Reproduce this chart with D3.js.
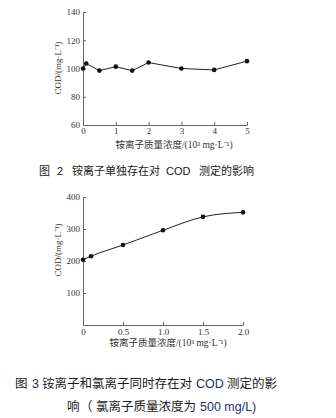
<!DOCTYPE html>
<html>
<head>
<meta charset="utf-8">
<script src="https://cdn.jsdelivr.net/npm/d3@7"></script>
<style>
  html, body { margin: 0; padding: 0; background: #fff; }
  svg { display: block; }
  .tick text { font-family: "Liberation Serif", serif; font-size: 9px; fill: #333; }
  .domain, .tick line { stroke: #666; }
</style>
</head>
<body>
<svg id="fig" width="336" height="418"></svg>
<script>
// Figure 2: ammonium alone
const aloneConc = [0, 0.1, 0.5, 1, 1.5, 2, 3, 4, 5];
const aloneCOD = [100, 103.5, 98.5, 101.3, 98.5, 104.2, 100, 99, 105.2];
const aloneXTicks = [0, 1, 2, 3, 4, 5];
const aloneYTicks = [60, 80, 100, 120, 140];

// Figure 3: ammonium with chloride (500 mg/L)
const mixedConc = [0, 0.1, 0.5, 1.0, 1.5, 2.0];
const mixedCOD = [204, 215, 250, 296, 338, 352];
const mixedXTicks = [0, 0.5, 1.0, 1.5, 2.0];
const mixedYTicks = [100, 200, 300, 400];

const xTitle = "铵离子质量浓度/(10³ mg·L⁻¹)";
const yTitle = "COD/(mg·L⁻¹)";

const svg = d3.select("#fig");

function panel(cfg) {
  const g = svg.append("g");
  const x = d3.scaleLinear().domain(cfg.xDomain).range(cfg.xRange);
  const y = d3.scaleLinear().domain(cfg.yDomain).range(cfg.yRange);

  g.append("g")
    .attr("transform", `translate(0,${cfg.yRange[0]})`)
    .call(d3.axisBottom(x).tickValues(cfg.xTicks).tickFormat(cfg.xFormat)
      .tickSizeInner(-3).tickSizeOuter(0).tickPadding(cfg.xPad));

  g.append("g")
    .attr("transform", `translate(${cfg.xRange[0]},0)`)
    .call(d3.axisLeft(y).tickValues(cfg.yTicks).tickFormat(d3.format("d"))
      .tickSizeInner(-3).tickSizeOuter(0).tickPadding(3));

  const pts = cfg.xs.map((v, i) => [v, cfg.ys[i]]);
  const line = d3.line().x(d => x(d[0])).y(d => y(d[1])).curve(cfg.curve);
  g.append("path").datum(pts)
    .attr("d", line).attr("fill", "none")
    .attr("stroke", "#222").attr("stroke-width", 1);

  g.selectAll("circle").data(pts).join("circle")
    .attr("cx", d => x(d[0])).attr("cy", d => y(d[1]))
    .attr("r", 2.3).attr("fill", "#111");

  g.append("text")
    .attr("x", cfg.xTitlePos[0]).attr("y", cfg.xTitlePos[1])
    .attr("text-anchor", "middle")
    .style("font-family", "'Liberation Serif', 'Noto Sans CJK SC', serif")
    .style("font-size", "9.5px").attr("fill", "#333")
    .text(xTitle);

  g.append("text")
    .attr("transform", `translate(${cfg.yTitlePos[0]},${cfg.yTitlePos[1]}) rotate(-90)`)
    .attr("text-anchor", "middle")
    .style("font-family", "'Liberation Serif', serif")
    .style("font-size", "9px").attr("fill", "#333")
    .text(yTitle);
}

panel({
  xDomain: [0, 5], xRange: [83, 247],
  yDomain: [60, 140], yRange: [125, 12],
  xTicks: aloneXTicks, yTicks: aloneYTicks,
  xFormat: d3.format("d"), xPad: 3,
  xs: aloneConc, ys: aloneCOD, curve: d3.curveLinear,
  xTitlePos: [174, 148], yTitlePos: [61, 68]
});

panel({
  xDomain: [0, 2], xRange: [83, 243],
  yDomain: [0, 400], yRange: [325, 197],
  xTicks: mixedXTicks, yTicks: mixedYTicks,
  xFormat: d => d === 0 ? "0" : d.toFixed(1), xPad: 4,
  xs: mixedConc, ys: mixedCOD, curve: d3.curveMonotoneX,
  xTitlePos: [168, 346], yTitlePos: [61, 250]
});

// Captions
const capFont = "'Liberation Sans', 'Noto Sans CJK SC', sans-serif";
function caption(y, size, parts) {
  const t = svg.append("text").attr("y", y)
    .style("font-family", capFont).style("font-size", size + "px");
  parts.forEach(p => {
    t.append("tspan").attr("x", p.x).attr("fill", p.c || "#1a1a1a").text(p.t);
  });
}

caption(175, 11, [
  { x: 39, t: "图" }, { x: 57, t: "2" },
  { x: 72, t: "铵离子单独存在对" }, { x: 166, t: "COD" },
  { x: 199, t: "测定的影响" }
]);

caption(388, 12.5, [
  { x: 15, t: "图" }, { x: 32, t: "3", c: "#1f2d6b" },
  { x: 42, t: "铵离子和氯离子同时存在对" }, { x: 196, t: "COD", c: "#1f2d6b" },
  { x: 227, t: "测定的影" }
]);

caption(411, 12.5, [
  { x: 67, t: "响" }, { x: 80, t: "（" },
  { x: 96, t: "氯离子质量浓度为" }, { x: 200, t: "500 mg/L)", c: "#1f2d6b" }
]);
</script>
</body>
</html>
